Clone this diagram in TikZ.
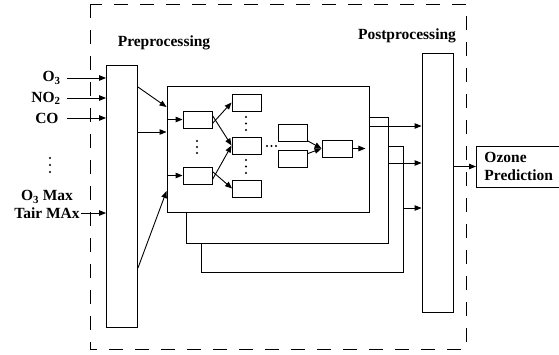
\documentclass[tikz,border=0pt]{standalone}
\usepackage{fontspec}
\setmainfont{Liberation Serif}
\usepackage{tikz}
\usetikzlibrary{arrows.meta}

\begin{document}
\begin{tikzpicture}[x=1pt, y=-1pt, line width=0.9pt,
    font=\fontsize{15.5}{18}\selectfont\bfseries,
    arr/.style={-{Triangle[length=7pt,width=5.5pt]}},
    tall/.style={draw, fill=white, inner sep=0pt, minimum width=31pt},
    netbox/.style={draw, fill=white, inner sep=0pt, minimum width=202pt, minimum height=126pt},
    cell/.style={draw, fill=white, inner sep=0pt, minimum width=29pt, minimum height=17pt},
    inlbl/.style={inner sep=1pt}]
	\useasboundingbox (0,0) rectangle (559,354);

	%% Draw dashed frame
    \draw[dash pattern=on 14pt off 12pt] (90,4) rectangle (466,349);

	%% Draw stages
    \node[tall, minimum height=262pt] (pre)  at (122,196)   {};
    \node[tall, minimum height=259pt] (post) at (437.5,182.5) {};
    \node (pretxt)  at (164,43) {Preprocessing};
    \node (posttxt) at (407,36) {Postprocessing};

	%% Draw network stack, back to front
    \node[netbox] (net3) at (302,209)   {};
    \node[netbox] (net2) at (287.5,180) {};
    \node[netbox] (net1) at (268,149)   {};

	%% Draw cells of front network
    \node[cell] (a1) at (197.5,119.5) {};
    \node[cell] (a2) at (197.5,175.5) {};
    \node[cell] (b1) at (246.5,102.5) {};
    \node[cell] (b2) at (246.5,145.5) {};
    \node[cell] (b3) at (247,188.5)   {};
    \node[cell] (c1) at (292.5,132.5) {};
    \node[cell] (c2) at (293,159)     {};
    \node[cell, minimum width=30pt] (d) at (337,148.5) {};

    \draw[arr] (net1.west |- a1) -- (a1);
    \draw[arr] (net1.west |- a2) -- (a2);
    \draw[arr] ([yshift=-4pt]a1.east) -- (b1.west);
    \draw[arr] ([yshift=4pt]a1.east)  -- (b2.west);
    \draw[arr] ([yshift=-4pt]a2.east) -- (b2.west);
    \draw[arr] ([yshift=4pt]a2.east)  -- (b3.west);
    \draw[arr] (c1) -- (d.west);
    \draw[arr] (c2) -- (d.west);
    \draw[arr] (d) -- ([xshift=-4pt]d -| net1.east);

	%% Draw the dots
    \fill (197,141) circle (1.1pt) (197,147) circle (1.1pt) (197,153) circle (1.1pt);
    \fill (246,117) circle (1.1pt) (246,123.5) circle (1.1pt) (246,130) circle (1.1pt);
    \fill (246,160) circle (1.1pt) (246,166.5) circle (1.1pt) (246,173) circle (1.1pt);
    \fill (267,146) circle (1.1pt) (271.5,146) circle (1.1pt) (276,146) circle (1.1pt);
    \fill (50,158) circle (1.2pt) (50,165) circle (1.2pt) (50,172) circle (1.2pt);

	%% Draw inputs
    \node[inlbl, anchor=east] (o3)  at (62,78)  {O\textsubscript{3}};
    \node[inlbl, anchor=east] (no2) at (62,98)  {NO\textsubscript{2}};
    \node[inlbl, anchor=east] (co)  at (60,118) {CO};
    \node[inlbl] (o3max) at (47,197) {O\textsubscript{3} Max};
    \node[inlbl] (tair)  at (47,213) {Tair MAx};

    \draw[arr] ([xshift=5pt]o3.east)  -- (o3 -| pre.west);
    \draw[arr] ([xshift=5pt]no2.east) -- (no2 -| pre.west);
    \draw[arr] ([xshift=7pt]co.east)  -- (co -| pre.west);
    \draw[arr] (tair.east) -- (tair -| pre.west);

	%% Draw links between stages
    \draw[arr] (pre.east |- 0,87)  -- (net1.west |- 0,107);
    \draw[arr] (pre.east |- 0,132) -- (net1.west |- 0,132);
    \draw[arr] (pre.east |- 0,268) -- (net1.west |- 0,191);

    \draw[arr] (net1.east |- 0,126) -- (post.west |- 0,126);
    \draw[arr] (net2.east |- 0,163) -- (post.west |- 0,163);
    \draw[arr] (net3.east |- 0,208) -- (post.west |- 0,208);

	%% Draw output
    \node[draw, align=left, anchor=west, inner xsep=8pt, minimum height=41pt] (ozone) at (476,166.5) {Ozone\\Prediction};
    \draw[arr] (post.east |- ozone) -- (ozone.west);
\end{tikzpicture}
\end{document}
